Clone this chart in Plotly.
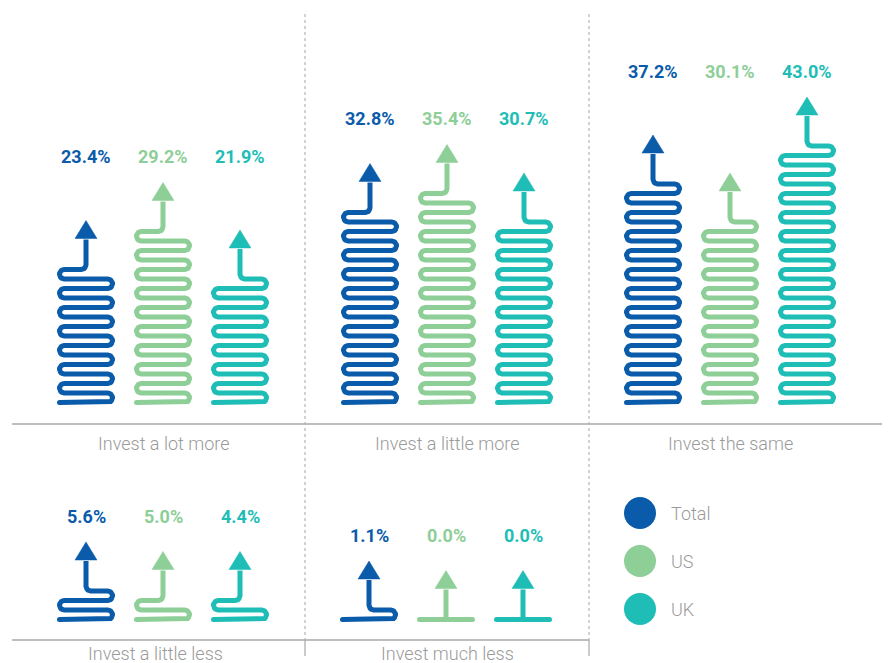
import math
import numpy as np
import plotly.graph_objects as go

# ---------------- data ----------------
categories = ["Invest a lot more", "Invest a little more", "Invest the same",
              "Invest a little less", "Invest much less"]
series_names = ["Total", "US", "UK"]
total_vals = [23.4, 32.8, 37.2, 5.6, 1.1]
us_vals = [29.2, 35.4, 30.1, 5.0, 0.0]
uk_vals = [21.9, 30.7, 43.0, 4.4, 0.0]
series_colors = ["#0A5BAA", "#8ECE97", "#1EBDB6"]

# ---------------- layout constants ----------------
W_PX, H_PX = 889, 663
panel_x0 = [57, 341, 624, 57, 340]          # left edge of first serpentine in each panel
panel_base = [402.5, 402.5, 402.5, 619.5, 619.5]
group_stride = 77
cat_label_x = [163, 447, 730, 155, 447]
cat_label_y = [443, 443, 443, 653, 653]

GW = 58        # serpentine outer width
LW = 5         # stroke width
S = 9.5        # row spacing
R = S / 2
STEM_ARROW = 49
ARROW_H = 18
ARROW_W = 22


def n_turns(v):
    if v <= 0:
        return 0
    return max(1, int(math.ceil((v - 2.3) / 1.53)))


def serpentine(x0, yb, v):
    n = n_turns(v)
    L = x0 + LW / 2
    Rr = x0 + GW - LW / 2
    xc = x0 + GW / 2
    extra = []
    caps = [(L, yb)]
    if n == 0:
        extra.append(([L, Rr], [yb, yb]))
        caps.append((Rr, yb))
        xs, ys = [xc], [yb]
        ytop = yb
    else:
        xs, ys = [L], [yb]
        for k in range(1, n + 1):
            y = yb - (k - 1) * S
            if k % 2 == 1:
                cx, cy = Rr - R, y - R
                t = np.linspace(np.pi / 2, -np.pi / 2, 15)
            else:
                cx, cy = L + R, y - R
                t = np.linspace(np.pi / 2, 3 * np.pi / 2, 15)
            xs.append(cx); ys.append(y)
            xs += list(cx + R * np.cos(t)); ys += list(cy + R * np.sin(t))
        ytop = yb - n * S
        if n % 2 == 1:
            cx, cy = xc + R, ytop - R
            t = np.linspace(np.pi / 2, np.pi, 8)
        else:
            cx, cy = xc - R, ytop - R
            t = np.linspace(np.pi / 2, 0, 8)
        xs.append(cx); ys.append(ytop)
        xs += list(cx + R * np.cos(t)); ys += list(cy + R * np.sin(t))
    tip = ytop - STEM_ARROW
    base = tip + ARROW_H
    xs.append(xc); ys.append(base + 1)
    arrow = ([xc - ARROW_W / 2, xc, xc + ARROW_W / 2, xc - ARROW_W / 2],
             [base, tip, base, base])
    return xs, ys, extra, caps, arrow, tip, xc


fig = go.Figure()
all_vals = [total_vals, us_vals, uk_vals]
annotations = []

for p in range(len(categories)):
    tips = []
    centers = []
    for si in range(3):
        v = all_vals[si][p]
        col = series_colors[si]
        x0 = panel_x0[p] + si * group_stride
        xs, ys, extra, caps, arrow, tip, xc = serpentine(x0, panel_base[p], v)
        tips.append(tip)
        centers.append(xc)
        fig.add_trace(go.Scatter(x=xs, y=ys, mode="lines",
                                 line=dict(color=col, width=LW), hoverinfo="skip"))
        for ex, ey in extra:
            fig.add_trace(go.Scatter(x=ex, y=ey, mode="lines",
                                     line=dict(color=col, width=LW), hoverinfo="skip"))
        fig.add_trace(go.Scatter(x=[c[0] for c in caps], y=[c[1] for c in caps],
                                 mode="markers", marker=dict(color=col, size=LW, line=dict(width=0)),
                                 hoverinfo="skip"))
        fig.add_trace(go.Scatter(x=arrow[0], y=arrow[1], mode="lines", fill="toself",
                                 fillcolor=col, line=dict(color=col, width=0.5),
                                 hoverinfo="skip"))
    label_y = min(tips) - 26
    for si in range(3):
        annotations.append(dict(x=centers[si], y=label_y, text=f"{all_vals[si][p]:.1f}%",
                                showarrow=False, xref="x", yref="y",
                                font=dict(family="Roboto", size=18, color=series_colors[si],
                                          weight="bold")))
    annotations.append(dict(x=cat_label_x[p], y=cat_label_y[p], text=categories[p],
                            showarrow=False, xref="x", yref="y",
                            font=dict(family="Roboto", size=18, color="#9a9a9a", weight=300)))

# legend
legend_y = [513, 561, 609]
fig.add_trace(go.Scatter(x=[640] * 3, y=legend_y, mode="markers",
                         marker=dict(color=series_colors, size=32, line=dict(width=0)),
                         hoverinfo="skip"))
for i, name in enumerate(series_names):
    annotations.append(dict(x=669, y=legend_y[i], text=name, showarrow=False,
                            xanchor="left", xref="x", yref="y",
                            font=dict(family="Roboto", size=18, color="#9a9a9a", weight=300)))

grid_col = "#b5b5b5"
shapes = [
    dict(type="line", x0=12, x1=882, y0=424, y1=424, line=dict(color="#a8a8a8", width=1.5)),
    dict(type="line", x0=12, x1=589, y0=640, y1=640, line=dict(color="#a8a8a8", width=1.5)),
    dict(type="line", x0=305, x1=305, y0=14, y1=640, line=dict(color=grid_col, width=1.2, dash="dot")),
    dict(type="line", x0=589, x1=589, y0=14, y1=640, line=dict(color=grid_col, width=1.2, dash="dot")),
    dict(type="line", x0=305, x1=305, y0=640, y1=656, line=dict(color="#a8a8a8", width=1.2)),
    dict(type="line", x0=589, x1=589, y0=640, y1=656, line=dict(color="#a8a8a8", width=1.2)),
]

fig.update_layout(
    width=W_PX, height=H_PX, margin=dict(l=0, r=0, t=0, b=0),
    paper_bgcolor="white", plot_bgcolor="white", showlegend=False,
    xaxis=dict(range=[0, W_PX], visible=False, fixedrange=True),
    yaxis=dict(range=[H_PX, 0], visible=False, fixedrange=True),
    annotations=annotations, shapes=shapes,
)

fig.write_html("out.html", config={"displayModeBar": False},
               post_script="document.body.style.margin='0';document.body.style.overflow='hidden';")
